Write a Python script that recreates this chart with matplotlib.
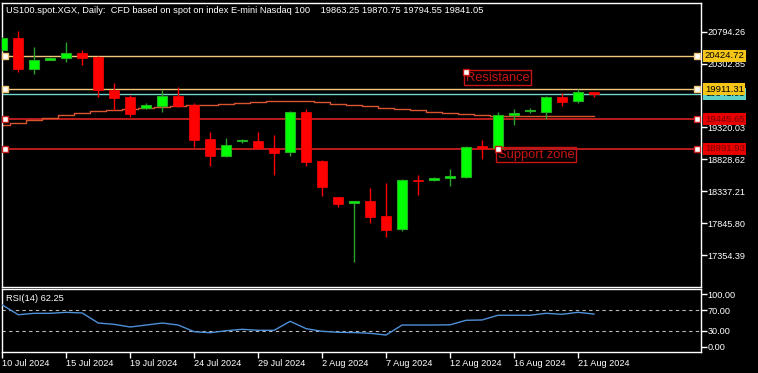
import matplotlib
matplotlib.use("Agg")
import matplotlib.pyplot as plt
import numpy as np

plt.rcParams['font.family'] = ['Liberation Sans Narrow', 'Liberation Sans', 'DejaVu Sans']

# ── data ─────────────────────────────────────────────────────────────────────
opens  = [20505, 20692, 20224, 20363, 20385, 20466, 20405, 19896, 19789, 19619,
          19655, 19804, 19661, 19142, 18885, 19105, 19111, 18999, 18937, 19558,
          18803, 18249, 18152, 18187, 17956, 17751, 18506, 18506, 18537, 18561,
          19034, 19008, 19512, 19568, 19562, 19789, 19722, 19863.25]
highs  = [20720, 20805, 20558, 20400, 20636, 20512, 20425, 20004, 19819, 19696,
          19896, 19943, 19692, 19250, 19162, 19140, 19250, 19203, 19573, 19599,
          18818, 18249, 18190, 18383, 18469, 18521, 18583, 18552, 18675, 19034,
          19127, 19553, 19604, 19615, 19799, 19846, 19907, 19870.75]
lows   = [20490, 20178, 20143, 20354, 20332, 20286, 19793, 19588, 19485, 19610,
          19562, 19640, 19023, 18731, 18865, 19085, 18983, 18587, 18885, 18731,
          18269, 18099, 17252, 17853, 17637, 17720, 18284, 18490, 18423, 18546,
          18834, 18998, 19357, 19547, 19450, 19655, 19701, 19794.55]
closes = [20692, 20224, 20354, 20389, 20462, 20394, 19892, 19778, 19531, 19665,
          19799, 19645, 19134, 18885, 19045, 19115, 19008, 18931, 19553, 18792,
          18407, 18145, 18182, 17945, 17740, 18506, 18488, 18537, 18572, 19023,
          19003, 19512, 19522, 19584, 19784, 19716, 19866, 19841.05]
ma     = [19362, 19388, 19427, 19465, 19504, 19538, 19568, 19588, 19604, 19619,
          19635, 19650, 19665, 19673, 19681, 19692, 19707, 19722, 19732, 19727,
          19704, 19688, 19673, 19650, 19619, 19604, 19588, 19565, 19542, 19522,
          19507, 19496, 19491, 19491, 19491, 19491, 19491, 19491]
rsi    = [79.6, 61.0, 63.7, 63.7, 65.6, 64.3, 45.2, 42.7, 37.6, 41.4,
          45.2, 41.4, 28.6, 26.7, 30.5, 33.2, 31.3, 31.3, 48.5, 34.4,
          29.4, 27.5, 27.0, 25.6, 22.3, 41.4, 41.4, 41.4, 41.8, 50.4,
          51.0, 60.0, 60.0, 60.0, 63.7, 61.8, 65.6, 62.25]

date_labels = ["10 Jul 2024", "15 Jul 2024", "19 Jul 2024", "24 Jul 2024",
               "29 Jul 2024", "2 Aug 2024", "7 Aug 2024", "12 Aug 2024",
               "16 Aug 2024", "21 Aug 2024"]
# 19811.44 sits under the level labels in the original, so it is left out
price_ticks = [20794.26, 20302.85, 19320.03, 18828.62,
               18337.21, 17845.80, 17354.39]
rsi_ticks = [100, 70, 30, 0]

title = ("US100.spot.XGX, Daily:  CFD based on spot on index E-mini Nasdaq 100    "
         "19863.25 19870.75 19794.55 19841.05")

# horizontal levels: value, line colour, label box colour, label text colour
levels = [
    (20424.72, "#f0c878", "#f5c518", "black"),
    (19911.31, "#f0c878", "#f5c518", "black"),
    (19445.65, "#c81e1e", "#e60000", "#7a0000"),
    (18991.93, "#c81e1e", "#e60000", "#7a0000"),
]
last_price = 19841.05
notes = [("Resistance", 29, 20175), ("Support zone", 31, 18995)]

UP, DOWN = "#00ff00", "#ff0000"
UP_WICK = "#2ca02c"
NOTE_RED = "#c81414"

# ── figure ───────────────────────────────────────────────────────────────────
W, H = 758, 373
fig = plt.figure(figsize=(W / 100, H / 100), dpi=100, facecolor="black")
ax = fig.add_axes([2.3 / W, (H - 286.7) / H, 698.4 / W, 284 / H], facecolor="black")
ax2 = fig.add_axes([2.3 / W, (H - 351.7) / H, 698.4 / W, 62.4 / H], facecolor="black")

x = np.arange(len(opens))
o, h, l, c = map(np.array, (opens, highs, lows, closes))
up = c >= o

# wicks
ax.vlines(x[up], l[up], h[up], color=UP_WICK, lw=1, zorder=3)
ax.vlines(x[~up], l[~up], h[~up], color=DOWN, lw=1, zorder=3)
# bodies
body = np.maximum(np.abs(c - o), 28)
ax.bar(x[up], body[up], bottom=np.minimum(o, c)[up], width=0.62,
       color=UP, edgecolor="#22b022", lw=0.8, zorder=4)
ax.bar(x[~up], body[~up], bottom=np.minimum(o, c)[~up], width=0.62,
       color=DOWN, edgecolor=DOWN, lw=0.5, zorder=4)

# moving average
ax.plot(x, ma, drawstyle="steps-mid", color="#d9552f", lw=1, zorder=2)

# levels
ax.axhline(last_price, color="#6fd6cc", lw=1, zorder=1)
ax.text(1.006, last_price, f"{last_price:.2f}", transform=ax.get_yaxis_transform(),
        va="center", ha="left", fontsize=6.8, color="black", zorder=9, clip_on=False,
        bbox=dict(boxstyle="square,pad=0.15", fc="#5fd3c8", ec="none"))
for val, lc, bc, tc in levels:
    lw = 1.3 if lc == "#c81e1e" else 1
    ax.axhline(val, color=lc, lw=lw, zorder=1)
    for xf in (0.004, 0.995):
        ax.plot([xf], [val], marker="s", ms=4, mfc="white", mec=lc, mew=1,
                transform=ax.get_yaxis_transform(), clip_on=False, zorder=6)
    ax.text(1.006, val, f"{val:.2f}", transform=ax.get_yaxis_transform(),
            va="center", ha="left", fontsize=6.8, color=tc, zorder=10, clip_on=False,
            bbox=dict(boxstyle="square,pad=0.15", fc=bc, ec="none"))

# text notes
for txt, bx, by in notes:
    ax.text(bx, by, txt, va="top", ha="left", fontsize=9.3, color=NOTE_RED, zorder=7,
            bbox=dict(boxstyle="square,pad=0.12", fc="none", ec=NOTE_RED, lw=1))
    ax.plot([bx], [by], marker="s", ms=4, mfc="white", mec=NOTE_RED, mew=1, zorder=8)

ax.text(0.006, 0.99, title, transform=ax.transAxes, va="top", ha="left",
        fontsize=6.7, color="white")

ax.set_xlim(0.02, 43.67)
ax.set_ylim(16867, 21241)
ax.set_yticks(price_ticks)
ax.set_yticklabels([f"{v:.2f}" for v in price_ticks])
ax.yaxis.tick_right()
ax.tick_params(axis="y", colors="white", length=4, width=1, labelsize=6.6, pad=1)
ax.set_xticks([])
for s in ax.spines.values():
    s.set_color("white")
    s.set_linewidth(1)

# ── RSI panel ────────────────────────────────────────────────────────────────
ax2.plot(x, rsi, color="#4f8fd8", lw=1, zorder=3)
for lvl in (70, 30):
    ax2.axhline(lvl, color="#bbbbbb", lw=0.8, ls=(0, (3, 3)), zorder=1)
ax2.text(0.005, 0.93, f"RSI(14) {rsi[-1]:.2f}", transform=ax2.transAxes,
         va="top", ha="left", fontsize=6.7, color="white")
ax2.set_xlim(0.02, 43.67)
ax2.set_ylim(-9.5, 109.5)
ax2.set_yticks(rsi_ticks)
ax2.set_yticklabels([f"{v:.2f}" for v in rsi_ticks])
ax2.yaxis.tick_right()
ax2.tick_params(axis="y", colors="white", length=4, width=1, labelsize=6.6, pad=1)
ax2.set_xticks(x[::4][:len(date_labels)])
ax2.set_xticklabels(date_labels, ha="left")
ax2.tick_params(axis="x", colors="white", length=4, width=1, labelsize=6.6, pad=1.5)
for s in ax2.spines.values():
    s.set_color("white")
    s.set_linewidth(1)

fig.savefig("out.png", dpi=100, facecolor="black")
